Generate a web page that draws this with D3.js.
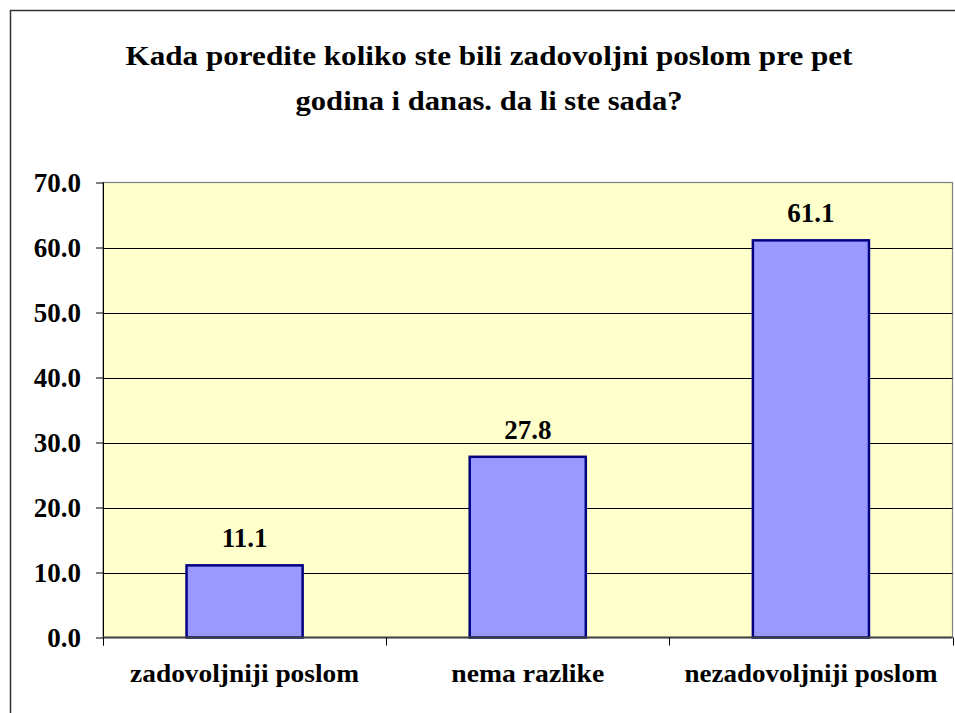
<!DOCTYPE html>
<html><head><meta charset="utf-8">
<script src="https://cdn.jsdelivr.net/npm/d3@7"></script>
<style>body{margin:0;background:#fff}svg{display:block}</style>
</head><body>
<script>
const titleLines = ["Kada poredite koliko ste bili zadovoljni poslom pre pet", "godina i danas. da li ste sada?"];
const categories = ["zadovoljniji poslom", "nema razlike", "nezadovoljniji poslom"];
const values = [11.1, 27.8, 61.1];
const yTicks = [0, 10, 20, 30, 40, 50, 60, 70];

const W = 955, H = 713;
const m = {left: 103, top: 182.5, right: 952.5, bottom: 637.5};
const FONT = '"Liberation Serif"';

function serif(sel, size) {
  return sel.style("font-family", FONT).style("font-weight", "bold").style("font-size", size + "px").style("fill", "#000");
}

const svg = d3.select("body").append("svg").attr("width", W).attr("height", H);
svg.append("rect").attr("width", W).attr("height", H).attr("fill", "#fff");
// outer frame (clipped on right/bottom)
svg.append("rect").attr("x", 10.5).attr("y", 10.5).attr("width", 1000).attr("height", 1000)
  .attr("fill", "none").attr("stroke", "#333").attr("stroke-width", 1.5);

const x = d3.scaleBand().domain(categories).range([m.left, m.right]).paddingInner(0.59).paddingOuter(0.295);
const xc = d3.scaleBand().domain(categories).range([m.left, m.right]);
const y = d3.scaleLinear().domain([0, 70]).range([m.bottom, m.top]);

// plot background
svg.append("rect").attr("x", m.left).attr("y", m.top).attr("width", m.right - m.left).attr("height", m.bottom - m.top)
  .attr("fill", "#FFFFCC").attr("stroke", "#808080").attr("stroke-width", 1.2);

// gridlines
svg.append("g").selectAll("line").data(yTicks.filter(d => d > 0 && d < 70)).join("line")
  .attr("x1", m.left).attr("x2", m.right).attr("y1", d => Math.round(y(d)) + 0.5).attr("y2", d => Math.round(y(d)) + 0.5)
  .attr("stroke", "#000").attr("stroke-width", 1);

// bars
svg.append("g").selectAll("rect").data(values).join("rect")
  .attr("x", (d, i) => x(categories[i])).attr("width", x.bandwidth())
  .attr("y", d => y(d)).attr("height", d => y(0) - y(d))
  .attr("fill", "#9999FF").attr("stroke", "#000080").attr("stroke-width", 2.5);

// y axis
const yAxis = d3.axisLeft(y).tickValues(yTicks).tickFormat(d3.format(".1f")).tickSizeOuter(0).tickSize(7).tickPadding(15);
const gy = svg.append("g").attr("transform", `translate(${m.left},0)`).call(yAxis);
gy.attr("font-family", null).attr("font-size", null);
gy.select(".domain").remove();
gy.selectAll(".tick line").attr("stroke", "#000");
serif(gy.selectAll("text"), 27).attr("fill", "#000").attr("dy", "0.34em");
svg.append("line").attr("x1", m.left + 0.5).attr("x2", m.left + 0.5).attr("y1", m.top).attr("y2", m.bottom + 8)
  .attr("stroke", "#000").attr("stroke-width", 1);

// x axis
svg.append("line").attr("x1", m.left).attr("x2", m.right).attr("y1", m.bottom).attr("y2", m.bottom)
  .attr("stroke", "#404040").attr("stroke-width", 2);
const sepX = categories.map(c => xc(c)).concat([m.right]);
svg.append("g").selectAll("line").data(sepX).join("line")
  .attr("x1", d => Math.round(d) + 0.5).attr("x2", d => Math.round(d) + 0.5).attr("y1", m.bottom).attr("y2", m.bottom + 8)
  .attr("stroke", "#000").attr("stroke-width", 1);

const catWidths = [229, 153, 253];
serif(svg.append("g").selectAll("text").data(categories).join("text"), 25)
  .attr("x", d => xc(d) + xc.bandwidth() / 2).attr("y", 682)
  .attr("text-anchor", "middle")
  .attr("textLength", (d, i) => catWidths[i]).attr("lengthAdjust", "spacingAndGlyphs")
  .text(d => d);

// value labels
serif(svg.append("g").selectAll("text").data(values).join("text"), 27)
  .attr("x", (d, i) => x(categories[i]) + x.bandwidth() / 2).attr("y", d => y(d) - 18)
  .attr("text-anchor", "middle")
  .text(d => d3.format(".1f")(d));

// title
const titleWidths = [727, 387];
serif(svg.append("g").selectAll("text").data(titleLines).join("text"), 28)
  .attr("x", 489).attr("y", (d, i) => 65 + i * 45)
  .attr("text-anchor", "middle")
  .attr("textLength", (d, i) => titleWidths[i]).attr("lengthAdjust", "spacingAndGlyphs")
  .text(d => d);
</script>
</body></html>
